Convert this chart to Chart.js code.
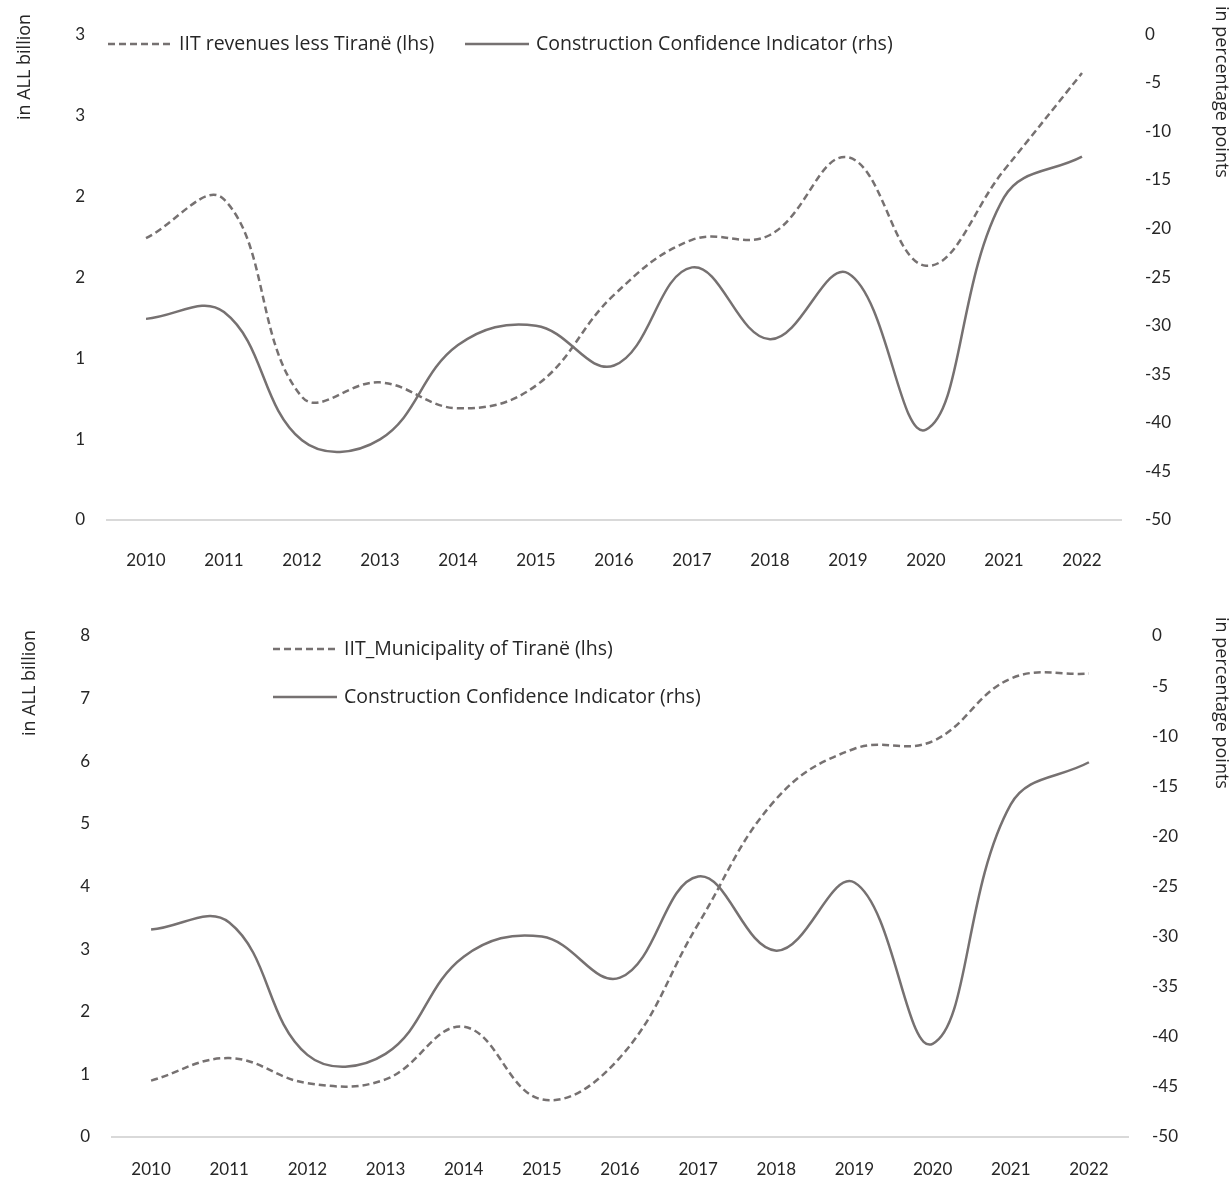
<!DOCTYPE html>
<html>
<head>
<meta charset="utf-8">
<script src="https://cdn.jsdelivr.net/npm/chart.js@4"></script>
<style>
  html, body { margin: 0; padding: 0; background: #fff; }
  .wrap { position: relative; width: 1232px; }
  #top-wrap { height: 590px; }
  #bottom-wrap { height: 587px; }
</style>
</head>
<body>
<div class="wrap" id="top-wrap"><canvas id="top-chart"></canvas></div>
<div class="wrap" id="bottom-wrap"><canvas id="bottom-chart"></canvas></div>
<script>
/* Two dual-axis line charts: IIT revenues vs Construction Confidence Indicator */

const years = ['2010','2011','2012','2013','2014','2015','2016','2017','2018','2019','2020','2021','2022'];

// in ALL billion (lhs)
const iitLessTirane = [1.74, 1.98, 0.76, 0.85, 0.69, 0.83, 1.39, 1.73, 1.76, 2.24, 1.57, 2.16, 2.76];
const iitTirane     = [0.90, 1.26, 0.86, 0.92, 1.76, 0.60, 1.27, 3.40, 5.40, 6.20, 6.32, 7.32, 7.40];

// in percentage points (rhs)
const cci = [-29.3, -28.6, -41.8, -41.7, -32.0, -30.0, -34.1, -24.0, -31.4, -24.6, -40.7, -16.8, -12.6];

const lineColor = '#767171';
const textColor = '#262626';
const tickFont  = { family: 'Lato', size: 17 };
const legendFont = "19.5px 'Open Sans'";
const titleFont  = "18px 'Open Sans'";

// draws the legend rows and the rotated axis titles at fixed spots
const overlayText = {
  id: 'overlayText',
  afterDraw(chart, args, opts) {
    const ctx = chart.ctx;
    ctx.save();
    ctx.fillStyle = textColor;
    ctx.textBaseline = 'middle';
    ctx.font = legendFont;
    (opts.legend || []).forEach((pos, i) => {
      const ds = chart.data.datasets[i];
      ctx.save();
      ctx.strokeStyle = ds.borderColor;
      ctx.lineWidth = ds.borderWidth;
      ctx.setLineDash(ds.borderDash || []);
      ctx.beginPath();
      ctx.moveTo(pos.x, pos.y);
      ctx.lineTo(pos.x + 64, pos.y);
      ctx.stroke();
      ctx.restore();
      ctx.textAlign = 'left';
      ctx.fillText(ds.label, pos.x + 71, pos.y);
    });
    ctx.font = titleFont;
    (opts.titles || []).forEach(t => {
      ctx.save();
      ctx.translate(t.x, t.y);
      ctx.rotate(t.rot);
      ctx.textAlign = 'center';
      ctx.fillText(t.text, 0, 0);
      ctx.restore();
    });
    ctx.restore();
  }
};

function makeChart(id, lhsLabel, lhsData, lhs, opt) {
  return new Chart(document.getElementById(id), {
    type: 'line',
    data: {
      labels: years,
      datasets: [
        { label: lhsLabel, data: lhsData, yAxisID: 'yL',
          borderColor: lineColor, borderWidth: 2.5, borderDash: [7, 4] },
        { label: 'Construction Confidence Indicator (rhs)', data: cci, yAxisID: 'yR',
          borderColor: lineColor, borderWidth: 2.5 },
      ]
    },
    options: {
      responsive: true, maintainAspectRatio: false, animation: false,
      elements: { point: { radius: 0 }, line: { tension: 0.4, fill: false } },
      layout: { padding: { top: opt.top } },
      plugins: {
        legend: { display: false }, tooltip: { enabled: false },
        overlayText: { legend: opt.legend, titles: opt.titles }
      },
      scales: {
        x: {
          offset: true,
          grid: { display: false, drawTicks: false },
          border: { display: true, color: '#d9d9d9', width: 2 },
          ticks: { font: tickFont, color: textColor, padding: opt.xPad, maxRotation: 0 },
          afterFit: s => { s.height = opt.xH; }
        },
        yL: {
          position: 'left', min: 0, max: lhs.max,
          grid: { display: false, drawTicks: false }, border: { display: false },
          ticks: { stepSize: lhs.step, font: tickFont, color: textColor, padding: 22,
                   callback: v => String(Math.round(v)) },
          afterFit: s => { s.width = opt.left; }
        },
        yR: {
          position: 'right', min: -50, max: 0,
          grid: { display: false, drawTicks: false }, border: { display: false },
          ticks: { stepSize: 5, font: tickFont, color: textColor, padding: 24 },
          afterFit: s => { s.width = opt.right; }
        }
      }
    },
    plugins: [overlayText]
  });
}

makeChart('top-chart', 'IIT revenues less Tiranë (lhs)', iitLessTirane, { max: 3, step: 0.5 }, {
  top: 30, xH: 70, xPad: 30, left: 107, right: 111,
  legend: [{ x: 108, y: 44 }, { x: 465, y: 44 }],
  titles: [
    { text: 'in ALL billion', x: 25, y: 67, rot: -Math.PI / 2 },
    { text: 'in percentage points', x: 1221, y: 92, rot: Math.PI / 2 }
  ]
});

makeChart('bottom-chart', 'IIT_Municipality of Tiranë (lhs)', iitTirane, { max: 8, step: 1 }, {
  top: 46, xH: 40, xPad: 22, left: 112, right: 104,
  legend: [{ x: 273, y: 59 }, { x: 273, y: 107 }],
  titles: [
    { text: 'in ALL billion', x: 30, y: 93, rot: -Math.PI / 2 },
    { text: 'in percentage points', x: 1221, y: 113, rot: Math.PI / 2 }
  ]
});
</script>
</body>
</html>
